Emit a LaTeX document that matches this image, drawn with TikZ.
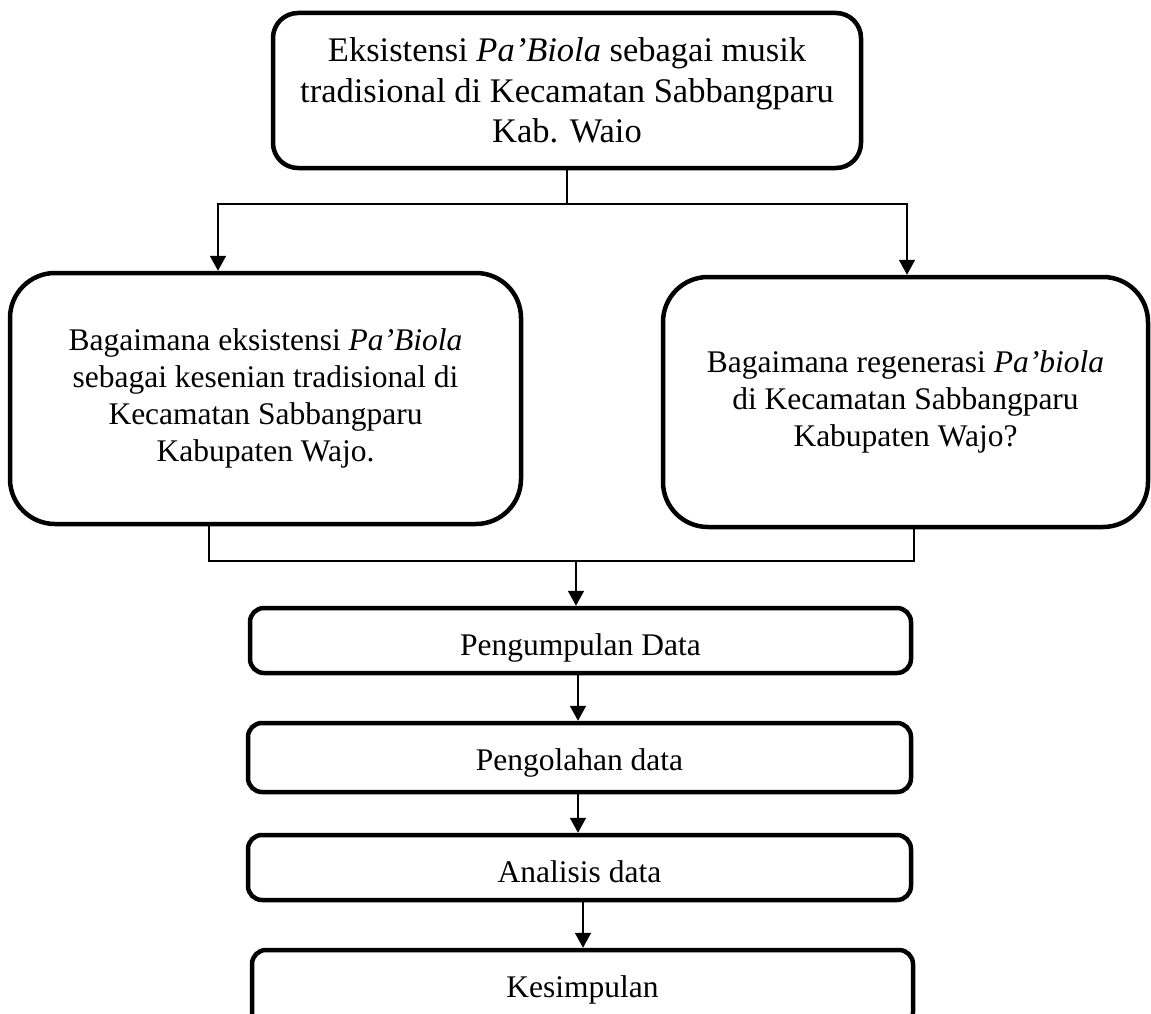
\documentclass[tikz,border=0pt]{standalone}
\usepackage{fontspec}
\setmainfont{Liberation Serif}
\usetikzlibrary{arrows.meta}
\begin{document}
\begin{tikzpicture}[x=1pt,y=-1pt,
  box/.style={draw, line width=4.5pt, inner sep=0pt, align=center,
    font=\fontsize{31.5}{37}\selectfont},
  bigtext/.style={font=\fontsize{34.5}{40.5}\selectfont},
  lift/.style={execute at begin node={\rule{0pt}{#1pt}}},
  conn/.style={line width=1.8pt},
  arr/.style={conn, -{Triangle[width=16pt,length=15pt]}}]
\useasboundingbox (0,0) rectangle (1151,1014);
\clip (0,0) rectangle (1151,1014);

\node[box, bigtext, rounded corners=25pt, minimum width=588pt, minimum height=155pt, lift=31.8] (T) at (567,90.5)
  {Eksistensi \textit{Pa’Biola} sebagai musik\\tradisional di Kecamatan Sabbangparu\\Kab. Waio};
\node[box, rounded corners=45pt, minimum width=511pt, minimum height=251pt, lift=40.5] (L) at (265.5,398.5)
  {Bagaimana eksistensi \textit{Pa’Biola}\\sebagai kesenian tradisional di\\Kecamatan Sabbangparu\\Kabupaten Wajo.};
\node[box, rounded corners=45pt, minimum width=485pt, minimum height=250pt, lift=36.5] (R) at (905.5,402)
  {Bagaimana regenerasi \textit{Pa’biola}\\di Kecamatan Sabbangparu\\Kabupaten Wajo?};
\node[box, rounded corners=14pt, minimum width=661pt, minimum height=65pt, lift=36.5] (P1) at (580.5,640.5)
  {Pengumpulan Data};
\node[box, rounded corners=14pt, minimum width=663pt, minimum height=69pt, lift=33.5] (P2) at (579.5,757.5)
  {Pengolahan data};
\node[box, rounded corners=14pt, minimum width=663pt, minimum height=65pt, lift=29.8] (P3) at (579.5,867.5)
  {Analisis data};
\node[box, rounded corners=14pt, minimum width=661pt, minimum height=76pt, lift=25.5] (P4) at (582.5,988)
  {Kesimpulan};

\coordinate (jl) at (218,204);
\coordinate (jr) at (907,204);
\draw[conn] (T.south) -- (T.south |- jl);
\draw[arr] (T.south |- jl) -- (jl) -- (jl |- L.north);
\draw[arr] (T.south |- jr) -- (jr) -- (jr |- R.north);

\coordinate (bl) at (209,561);
\coordinate (br) at (914,561);
\coordinate (bm) at (576,561);
\draw[conn] (bl |- L.south) -- (bl) -- (br) -- (br |- R.south);
\draw[arr] (bm) -- (bm |- P1.north);

\coordinate (a1) at (578,0);
\coordinate (a3) at (583,0);
\draw[arr] (a1 |- P1.south) -- (a1 |- P2.north);
\draw[arr] (a1 |- P2.south) -- (a1 |- P3.north);
\draw[arr] (a3 |- P3.south) -- (a3 |- P4.north);
\end{tikzpicture}
\end{document}
